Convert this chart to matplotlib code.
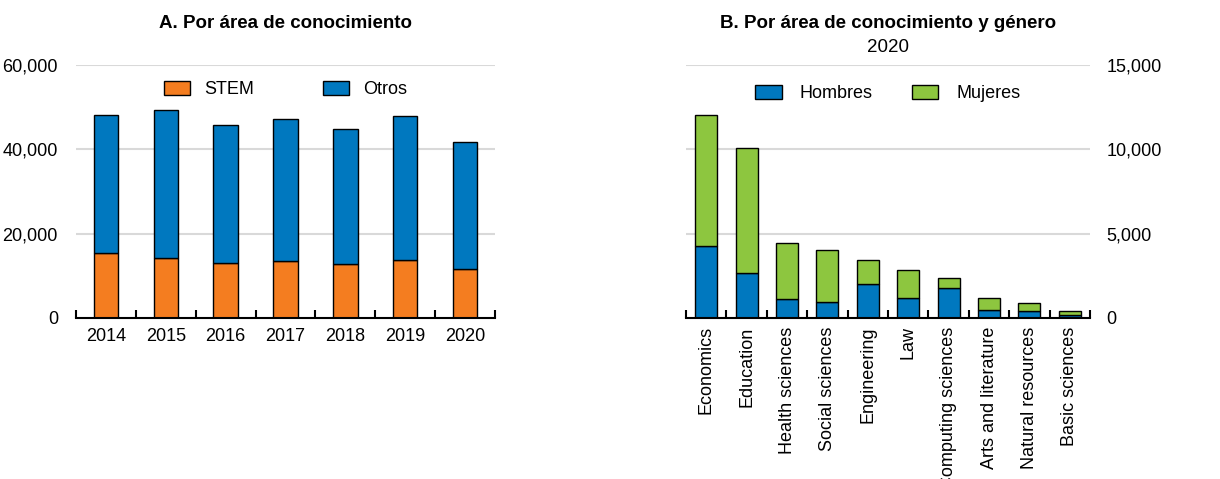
import numpy as np
import matplotlib
matplotlib.use("Agg")
import matplotlib.pyplot as plt
from matplotlib.ticker import FuncFormatter

plt.rcParams['font.family'] = ['Liberation Sans', 'DejaVu Sans']
plt.rcParams['font.size'] = 13

# panel A
years = ['2014', '2015', '2016', '2017', '2018', '2019', '2020']
stem = [15300, 14300, 13000, 13600, 12800, 13700, 11600]
total = [48100, 49300, 45800, 47300, 44800, 47900, 41800]
otros = [t - s for t, s in zip(total, stem)]

# panel B
areas = ['Economics', 'Education', 'Health sciences', 'Social sciences',
         'Engineering', 'Law', 'Computing sciences', 'Arts and literature',
         'Natural resources', 'Basic sciences']
hombres = [4290, 2670, 1150, 950, 2030, 1190, 1800, 470, 410, 200]
total_b = [12010, 10080, 4470, 4010, 3420, 2850, 2350, 1190, 870, 390]
mujeres = [t - h for t, h in zip(total_b, hombres)]

orange = '#F47D20'
blue = '#0078BF'
green = '#8DC63F'
grid = '#D9D9D9'

fig = plt.figure(figsize=(12.2, 4.79), dpi=100)
axA = fig.add_axes([76 / 1220, 161 / 479, 419 / 1220, 253 / 479])
axB = fig.add_axes([686 / 1220, 161 / 479, 404 / 1220, 253 / 479])

fmt = FuncFormatter(lambda v, p: f'{v:,.0f}')


def style(ax, n, ymax, step):
    ax.set_xlim(-0.5, n - 0.5)
    ax.set_ylim(0, ymax)
    ax.set_yticks(np.arange(0, ymax + 1, step))
    ax.yaxis.set_major_formatter(fmt)
    for s in ['top', 'left', 'right']:
        ax.spines[s].set_visible(False)
    ax.spines['bottom'].set_linewidth(1.5)
    ax.set_axisbelow(True)
    for v in np.arange(step, ymax + 1, step):
        ax.axhline(v, color=grid, lw=1.5, zorder=0)
    ax.set_xticks(np.arange(-0.5, n, 1.0), minor=False)
    ax.tick_params(axis='x', which='major', direction='in', length=6, width=1.5, labelbottom=False)
    ax.set_xticks(np.arange(n), minor=True)
    ax.tick_params(axis='x', which='minor', length=0, pad=7)
    ax.tick_params(axis='y', length=0)


x = np.arange(len(years))
axA.bar(x, stem, 0.41, color=orange, edgecolor='black', lw=1, label='STEM')
axA.bar(x, otros, 0.41, bottom=stem, color=blue, edgecolor='black', lw=1, label='Otros')
style(axA, len(years), 60000, 20000)
axA.set_xticklabels(years, minor=True)
axA.tick_params(axis='y', pad=13)
axA.set_title('A. Por área de conocimiento', fontweight='bold', fontsize=13.5, pad=27)
axA.legend(loc='upper center', bbox_to_anchor=(0.5, 1.0), ncol=2, frameon=False,
           handlelength=1.45, handleheight=0.8, handletextpad=0.8, columnspacing=3.8)

xb = np.arange(len(areas))
axB.bar(xb, hombres, 0.54, color=blue, edgecolor='black', lw=1, label='Hombres')
axB.bar(xb, mujeres, 0.54, bottom=hombres, color=green, edgecolor='black', lw=1, label='Mujeres')
style(axB, len(areas), 15000, 5000)
axB.set_xticklabels(areas, minor=True, rotation=90)
axB.tick_params(axis='x', which='minor', pad=6)
axB.yaxis.tick_right()
axB.tick_params(axis='y', pad=12)
axB.set_title('B. Por área de conocimiento y género', fontweight='bold', fontsize=13.5, pad=27)
axB.text(0.5, 1.035, '2020', transform=axB.transAxes, ha='center', va='bottom', fontsize=13.5)
axB.legend(loc='upper center', bbox_to_anchor=(0.5, 0.985), ncol=2, frameon=False,
           handlelength=1.45, handleheight=0.8, handletextpad=1.0, columnspacing=2.2)

fig.savefig('out.png', dpi=100)
